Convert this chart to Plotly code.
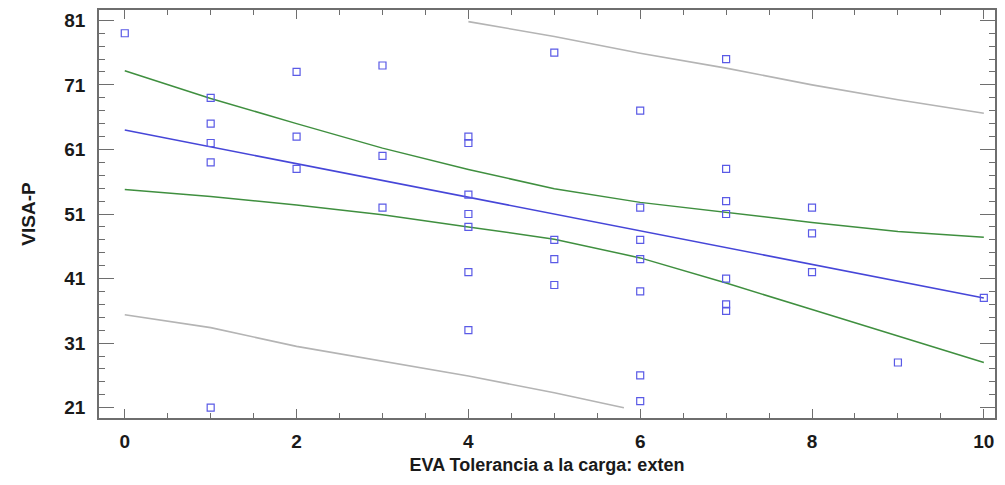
import plotly.graph_objects as go

# Observations: EVA load tolerance (x) vs VISA-P score (y)
eva = [0,
       1, 1, 1, 1, 1,
       2, 2, 2,
       3, 3, 3,
       4, 4, 4, 4, 4, 4, 4,
       5, 5, 5, 5,
       6, 6, 6, 6, 6, 6, 6,
       7, 7, 7, 7, 7, 7, 7,
       8, 8, 8,
       9,
       10]
visa = [79,
        69, 65, 62, 59, 21,
        73, 63, 58,
        74, 60, 52,
        63, 62, 54, 51, 49, 42, 33,
        76, 47, 44, 40,
        67, 52, 47, 44, 39, 26, 22,
        75, 58, 53, 51, 41, 37, 36,
        52, 48, 42,
        28,
        38]

# Fitted regression line (end points)
fit_x = [0, 10]
fit_y = [64.0, 38.0]

# Confidence limits for the mean
band_x = [0, 1, 2, 3, 4, 5, 6, 7, 8, 9, 10]
conf_upper = [73.2, 68.9, 65.0, 61.2, 57.9, 54.9, 52.8, 51.25, 49.7, 48.3, 47.4]
conf_lower = [54.8, 53.7, 52.4, 50.9, 49.0, 47.1, 44.2, 40.3, 36.2, 32.1, 28.0]

# Prediction limits (drawn only inside the 21..81 window)
pred_upper_x = [4, 5, 6, 7, 8, 9, 10]
pred_upper = [80.8, 78.5, 75.9, 73.6, 71.0, 68.7, 66.6]
pred_lower_x = [0, 1, 2, 3, 4, 5, 5.81]
pred_lower = [35.4, 33.4, 30.5, 28.2, 25.9, 23.3, 21.0]

y_ticks = [21, 31, 41, 51, 61, 71, 81]
x_ticks = [0, 2, 4, 6, 8, 10]

GRAY = "#b4b4b4"
GREEN = "#3f8f3f"
BLUE = "#4646d8"
FONT = "Liberation Sans"

fig = go.Figure()
fig.add_trace(go.Scatter(x=pred_upper_x, y=pred_upper, mode="lines",
                         line=dict(color=GRAY, width=1.6), hoverinfo="skip"))
fig.add_trace(go.Scatter(x=pred_lower_x, y=pred_lower, mode="lines",
                         line=dict(color=GRAY, width=1.6), hoverinfo="skip"))
fig.add_trace(go.Scatter(x=band_x, y=conf_upper, mode="lines",
                         line=dict(color=GREEN, width=1.5), hoverinfo="skip"))
fig.add_trace(go.Scatter(x=band_x, y=conf_lower, mode="lines",
                         line=dict(color=GREEN, width=1.5), hoverinfo="skip"))
fig.add_trace(go.Scatter(x=fit_x, y=fit_y, mode="lines",
                         line=dict(color=BLUE, width=1.6), hoverinfo="skip"))
fig.add_trace(go.Scatter(x=eva, y=visa, mode="markers",
                         marker=dict(symbol="square-open", size=7,
                                     color="#5a5ae6", line=dict(width=1.2))))

axis_common = dict(
    showline=True, linecolor="#6e6e6e", linewidth=1.5, mirror="ticks",
    ticks="inside", tickcolor="#6e6e6e", tickwidth=1.3,
    showgrid=False, zeroline=False,
    tickfont=dict(family=FONT, size=19, color="#1a1a1a", weight="bold"),
)

fig.update_xaxes(
    **axis_common,
    range=[-0.3, 10.13],
    tickvals=x_ticks, ticklen=9,
    minor=dict(dtick=0.5, ticks="inside", ticklen=5, tickcolor="#6e6e6e", tickwidth=1.1),
    ticklabelstandoff=5,
    title=dict(text="EVA Tolerancia a la carga: exten", standoff=8,
               font=dict(family=FONT, size=18, color="#1a1a1a", weight="bold")),
)
fig.update_yaxes(
    **axis_common,
    range=[19.4, 82.6],
    tickvals=y_ticks, ticklen=15,
    minor=dict(tick0=21, dtick=2, ticks="inside", ticklen=6, tickcolor="#6e6e6e", tickwidth=1.1),
    ticklabelstandoff=8,
    title=dict(text="VISA-P", standoff=24,
               font=dict(family=FONT, size=19, color="#1a1a1a", weight="bold")),
)

fig.update_layout(
    width=1005, height=485,
    margin=dict(l=99, r=8, t=10, b=67),
    paper_bgcolor="white", plot_bgcolor="white",
    showlegend=False,
)

fig.write_html("out.html")
